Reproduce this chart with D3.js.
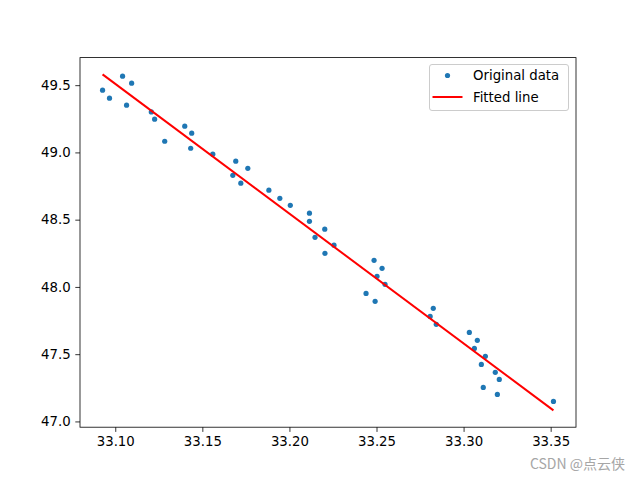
<!DOCTYPE html>
<html>
<head>
    <meta charset="utf-8">
    <title>Fitted line</title>
    <script src="https://cdn.jsdelivr.net/npm/d3@7"></script>
    <style>
        body { margin: 0; background: #fff; }
        text { font-family: "DejaVu Sans", sans-serif; }
    </style>
</head>

<body>
    <svg width="640" height="480" id="mainsvg"></svg>
    <script>
        // scatter points
        const xData = [33.0927, 33.0967, 33.1042, 33.1094, 33.1065, 33.1207, 33.1226, 33.1284,
            33.1399, 33.1439, 33.1433, 33.1560, 33.1692, 33.1675, 33.1721, 33.1761,
            33.1882, 33.1945, 33.2005, 33.2115, 33.2115, 33.2203, 33.2147, 33.2256,
            33.2204, 33.2486, 33.2532, 33.2503, 33.2549, 33.2440, 33.2492, 33.2826,
            33.2808, 33.2843, 33.3033, 33.3079, 33.3062, 33.3125, 33.3102, 33.3182,
            33.3205, 33.3113, 33.3194, 33.3516];
        const yData = [49.463, 49.403, 49.567, 49.515, 49.351, 49.301, 49.247, 49.083,
            49.195, 49.143, 49.031, 48.987, 48.935, 48.830, 48.771, 48.882,
            48.719, 48.659, 48.607, 48.548, 48.488, 48.429, 48.369, 48.310,
            48.250, 48.198, 48.138, 48.079, 48.019, 47.952, 47.893, 47.841,
            47.781, 47.722, 47.662, 47.603, 47.543, 47.484, 47.424, 47.365,
            47.312, 47.253, 47.201, 47.149];
        // fitted line end points
        const fitX = [33.0927, 33.3516];
        const fitY = [49.580, 47.082];

        const xTicks = [33.10, 33.15, 33.20, 33.25, 33.30, 33.35];
        const yTicks = [47.0, 47.5, 48.0, 48.5, 49.0, 49.5];

        const svg = d3.select('svg');
        const mLeft = 80, mRight = 576, mTop = 57.6, mBottom = 427.2;

        // matplotlib-like 5% margins
        function padded(vals) {
            const lo = d3.min(vals), hi = d3.max(vals);
            const m = (hi - lo) * 0.05;
            return [lo - m, hi + m];
        }
        const allX = xData.concat(fitX), allY = yData.concat(fitY);
        const x = d3.scaleLinear().domain(padded(allX)).range([mLeft, mRight]);
        const y = d3.scaleLinear().domain(padded(allY)).range([mBottom, mTop]);

        svg.append('rect').attr('width', 640).attr('height', 480).attr('fill', '#fff');

        const xAxis = d3.axisBottom(x).tickValues(xTicks).tickFormat(d3.format('.2f'))
            .tickSizeInner(4.7).tickSizeOuter(0).tickPadding(4.7);
        const yAxis = d3.axisLeft(y).tickValues(yTicks).tickFormat(d3.format('.1f'))
            .tickSizeInner(4.7).tickSizeOuter(0).tickPadding(4.7);

        const gx = svg.append('g').attr('transform', `translate(0,${mBottom})`).call(xAxis);
        const gy = svg.append('g').attr('transform', `translate(${mLeft},0)`).call(yAxis);
        [gx, gy].forEach(g => {
            g.select('.domain').remove();
            g.selectAll('line').attr('stroke', '#000').attr('stroke-width', 0.8);
            g.selectAll('text').attr('fill', '#000').style('font-size', '13.3px')
                .style('font-family', '"DejaVu Sans", sans-serif');
        });

        // data points
        svg.append('g').selectAll('circle').data(xData).join('circle')
            .attr('cx', (d, i) => x(d))
            .attr('cy', (d, i) => y(yData[i]))
            .attr('r', 2.6)
            .attr('fill', '#1f77b4');

        // fitted line
        const line = d3.line().x(d => x(d[0])).y(d => y(d[1]));
        svg.append('path')
            .datum(fitX.map((d, i) => [d, fitY[i]]))
            .attr('d', line)
            .attr('fill', 'none')
            .attr('stroke', 'red')
            .attr('stroke-width', 2);

        // frame
        svg.append('rect')
            .attr('x', mLeft).attr('y', mTop)
            .attr('width', mRight - mLeft).attr('height', mBottom - mTop)
            .attr('fill', 'none').attr('stroke', '#000').attr('stroke-width', 0.8);

        // legend
        const lg = svg.append('g');
        lg.append('rect')
            .attr('x', 429.5).attr('y', 64.5).attr('width', 139).attr('height', 46)
            .attr('rx', 2.5).attr('fill', '#fff').attr('fill-opacity', 0.8)
            .attr('stroke', '#cccccc').attr('stroke-width', 1);
        lg.append('circle').attr('cx', 447.5).attr('cy', 75.5).attr('r', 2.6).attr('fill', '#1f77b4');
        lg.append('line').attr('x1', 432.5).attr('x2', 462.5).attr('y1', 97).attr('y2', 97)
            .attr('stroke', 'red').attr('stroke-width', 2);
        lg.append('text').attr('x', 473).attr('y', 80.2).text('Original data')
            .style('font-size', '13.3px');
        lg.append('text').attr('x', 473).attr('y', 102).text('Fitted line')
            .style('font-size', '13.3px');

        // watermark
        svg.append('text')
            .attr('x', 625).attr('y', 469)
            .attr('text-anchor', 'end')
            .attr('fill', '#a6a6a6')
            .style('font-family', '"Noto Sans CJK SC", "DejaVu Sans", sans-serif')
            .style('font-size', '14px')
            .text('CSDN @点云侠');
    </script>
</body>
</html>
